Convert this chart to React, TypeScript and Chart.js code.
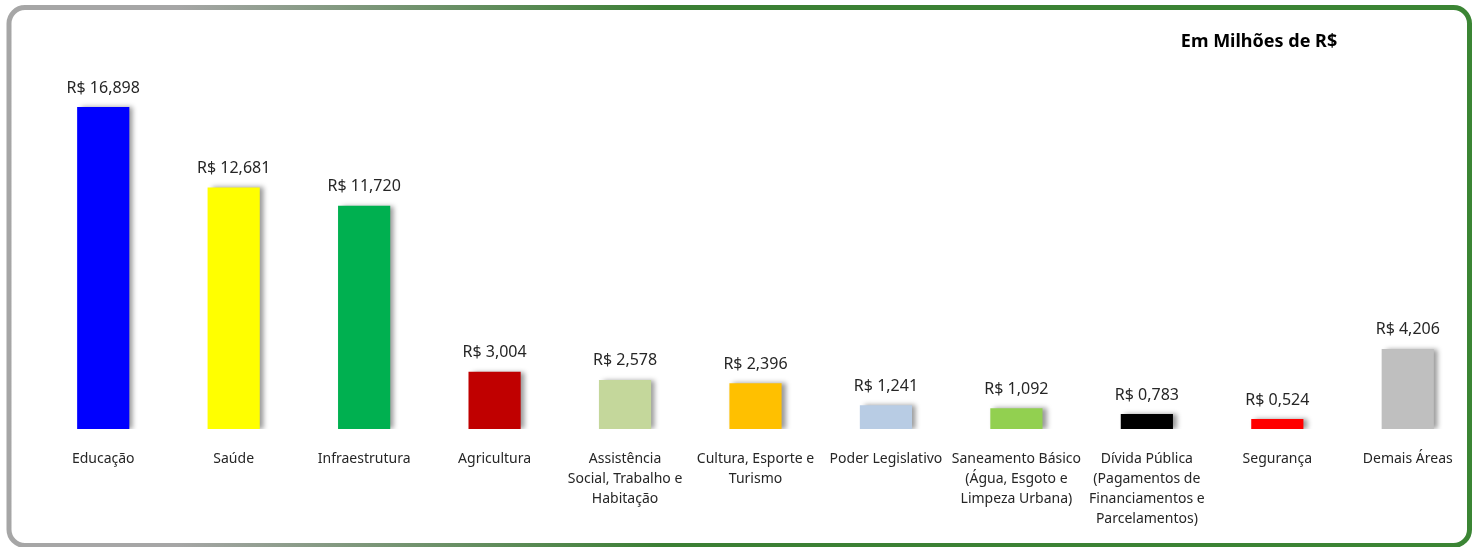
import React, { useEffect, useRef } from "react";
import { Chart, registerables } from "chart.js";

Chart.register(...registerables);

const categories: (string | string[])[] = [
  "Educação",
  "Saúde",
  "Infraestrutura",
  "Agricultura",
  ["Assistência", "Social, Trabalho e", "Habitação"],
  ["Cultura, Esporte e", "Turismo"],
  "Poder Legislativo",
  ["Saneamento Básico", "(Água, Esgoto e", "Limpeza Urbana)"],
  ["Dívida Pública", "(Pagamentos de", "Financiamentos e", "Parcelamentos)"],
  "Segurança",
  "Demais Áreas",
];

const values: number[] = [16.898, 12.681, 11.72, 3.004, 2.578, 2.396, 1.241, 1.092, 0.783, 0.524, 4.206];

const barColors: string[] = [
  "#0000FF",
  "#FFFF00",
  "#00B050",
  "#C00000",
  "#C4D79B",
  "#FFC000",
  "#B8CCE4",
  "#92D050",
  "#000000",
  "#FF0000",
  "#BFBFBF",
];

const titleText = "Em Milhões de R$";
const FONT = "'Noto Sans', 'Open Sans', sans-serif";

const fmt = (v: number) => "R$ " + v.toFixed(3).replace(".", ",");

const framePlugin = {
  id: "frame",
  beforeDraw(chart: any) {
    const ctx = chart.ctx;
    const w = chart.width;
    const h = chart.height;
    ctx.save();
    ctx.fillStyle = "#ffffff";
    ctx.fillRect(0, 0, w, h);
    const lw = 5;
    const x0 = 6.5 + lw / 2;
    const y0 = 5 + lw / 2;
    const x1 = 1472 - lw / 2;
    const y1 = 548 - lw / 2;
    const r = 16;
    const g = ctx.createLinearGradient(0, 0, w, 0);
    g.addColorStop(0, "#a6a6a6");
    g.addColorStop(0.12, "#a6a6a6");
    g.addColorStop(0.45, "#3b7f34");
    g.addColorStop(1, "#3b8534");
    ctx.strokeStyle = g;
    ctx.lineWidth = lw;
    ctx.beginPath();
    ctx.moveTo(x0 + r, y0);
    ctx.lineTo(x1 - r, y0);
    ctx.arcTo(x1, y0, x1, y0 + r, r);
    ctx.lineTo(x1, y1 - r);
    ctx.arcTo(x1, y1, x1 - r, y1, r);
    ctx.lineTo(x0 + r, y1);
    ctx.arcTo(x0, y1, x0, y1 - r, r);
    ctx.lineTo(x0, y0 + r);
    ctx.arcTo(x0, y0, x0 + r, y0, r);
    ctx.closePath();
    ctx.stroke();

    ctx.fillStyle = "#000000";
    ctx.font = `bold 18px ${FONT}`;
    ctx.textAlign = "center";
    ctx.textBaseline = "middle";
    ctx.fillText(titleText, 1259, 42);
    ctx.restore();
  },
  beforeDatasetsDraw(chart: any) {
    const ctx = chart.ctx;
    ctx.save();
    ctx.shadowColor = "rgba(0,0,0,0.4)";
    ctx.shadowOffsetX = 4;
    ctx.shadowOffsetY = 0;
    ctx.shadowBlur = 5;
  },
  afterDatasetsDraw(chart: any) {
    const ctx = chart.ctx;
    ctx.restore();
    ctx.save();
    ctx.fillStyle = "#262626";
    ctx.font = `16px ${FONT}`;
    ctx.textAlign = "center";
    ctx.textBaseline = "middle";
    const meta = chart.getDatasetMeta(0);
    meta.data.forEach((bar: any, i: number) => {
      ctx.fillText(fmt(values[i]), bar.x, bar.y - 19);
    });
    ctx.restore();
  },
};

export default function App() {
  const ref = useRef<HTMLCanvasElement | null>(null);
  useEffect(() => {
    if (!ref.current) return;
    const chart = new Chart(ref.current, {
      type: "bar",
      data: {
        labels: categories,
        datasets: [
          {
            data: values,
            backgroundColor: barColors,
            borderWidth: 0,
            barPercentage: 0.4,
            categoryPercentage: 1,
          },
        ],
      },
      options: {
        responsive: false,
        animation: false,
        maintainAspectRatio: false,
        layout: { padding: { left: 38, right: 0, top: 48, bottom: 0 } },
        plugins: {
          legend: { display: false },
          tooltip: { enabled: false },
          title: { display: false },
        },
        scales: {
          x: {
            grid: { display: false, drawTicks: false },
            border: { display: false },
            ticks: {
              color: "#262626",
              font: { family: FONT, size: 14, lineHeight: 1.43 },
              padding: 20,
              maxRotation: 0,
              minRotation: 0,
              autoSkip: false,
            },
            afterFit(scale: any) {
              scale.height = 118;
            },
          },
          y: {
            display: false,
            min: 0,
            max: 20,
          },
        },
      },
      plugins: [framePlugin],
    });
    return () => chart.destroy();
  }, []);
  return (
    <div style={{ position: "fixed", left: 0, top: 0, width: 1473, height: 547 }}>
      <canvas ref={ref} width={1473} height={547} style={{ display: "block" }} />
    </div>
  );
}
